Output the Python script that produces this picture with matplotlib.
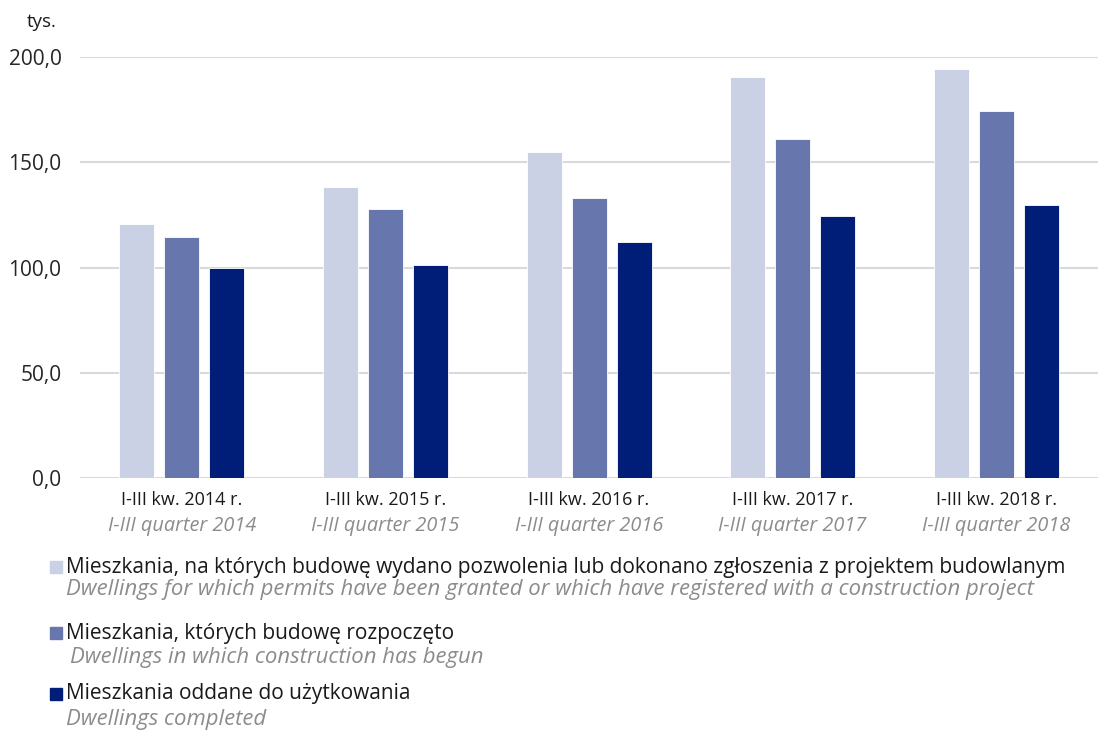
#! /usr/bin/env python3
import matplotlib
matplotlib.use('Agg')
import matplotlib.pyplot as plt
import matplotlib.transforms as mtransforms
from matplotlib.patches import Rectangle
import numpy as np

# data (thousands of dwellings)
categories_pl = ['I-III kw. 2014 r.', 'I-III kw. 2015 r.', 'I-III kw. 2016 r.',
                 'I-III kw. 2017 r.', 'I-III kw. 2018 r.']
categories_en = ['I-III quarter 2014', 'I-III quarter 2015', 'I-III quarter 2016',
                 'I-III quarter 2017', 'I-III quarter 2018']
permits = [120.6, 138.2, 154.7, 190.6, 194.2]
started = [114.4, 127.8, 132.9, 160.9, 174.2]
completed = [99.9, 101.2, 112.0, 124.5, 129.7]
yticks = [0, 50, 100, 150, 200]
ytick_labels = ['0,0', '50,0', '100,0', '150,0', '200,0']

series_pl = ['Mieszkania, na których budowę wydano pozwolenia lub dokonano zgłoszenia z projektem budowlanym',
             'Mieszkania, których budowę rozpoczęto',
             'Mieszkania oddane do użytkowania']
series_en = ['Dwellings for which permits have been granted or which have registered with a construction project',
             'Dwellings in which construction has begun',
             'Dwellings completed']

colors = ['#CBD1E4', '#6777AD', '#001E77']
FONT = 'Open Sans'


def main():
    plt.rcParams['font.family'] = [FONT, 'DejaVu Sans']
    fig = plt.figure(figsize=(10.98, 7.32), dpi=100)
    ax = fig.add_axes([0.073, 0.347, 0.927, 0.575])

    x = np.arange(len(categories_pl))
    width = 0.172
    step = 0.221
    for i, vals in enumerate([permits, started, completed]):
        ax.bar(x + (i - 1) * step, vals, width, color=colors[i],
               edgecolor='white', linewidth=0.6, zorder=3)

    ax.set_xlim(-0.5, len(categories_pl) - 0.5)
    ax.set_ylim(0, 200)
    ax.set_yticks(yticks)
    ax.set_yticklabels(ytick_labels, fontsize=15, color='#262626')
    ax.tick_params(axis='y', length=0, pad=13.5)
    ax.set_xticks([])
    ax.grid(axis='y', color='#D9D9D9', linewidth=1.5, zorder=0)
    for s in ax.spines.values():
        s.set_visible(False)

    # category labels, two lines
    trans = mtransforms.blended_transform_factory(ax.transData, ax.transAxes)
    for xi, pl, en in zip(x, categories_pl, categories_en):
        ax.text(xi, -0.053, pl, transform=trans, ha='center', va='center',
                fontsize=13, color='#1a1a1a')
        ax.text(xi, -0.115, en, transform=trans, ha='center', va='center',
                fontsize=14.3, color='#8c8c8c', style='italic')

    fig.text(27 / 1098, 1 - 22 / 732, 'tys.', fontsize=13.5, color='#1a1a1a',
             ha='left', va='center')

    # legend drawn by hand
    pl_y = [567, 633, 694]
    en_y = [590, 658, 720]
    en_x = [66, 70, 66]
    for i in range(3):
        fig.patches.append(Rectangle((50 / 1098, 1 - (pl_y[i] + 6) / 732),
                                     12 / 1098, 12 / 732, color=colors[i],
                                     transform=fig.transFigure, figure=fig))
        fig.text(66 / 1098, 1 - pl_y[i] / 732, series_pl[i], fontsize=15,
                 color='#1a1a1a', ha='left', va='center')
        fig.text(en_x[i] / 1098, 1 - en_y[i] / 732, series_en[i], fontsize=15.9,
                 color='#8c8c8c', style='italic', ha='left', va='center')

    fig.savefig('out.png', dpi=100)


if __name__ == '__main__':
    main()
